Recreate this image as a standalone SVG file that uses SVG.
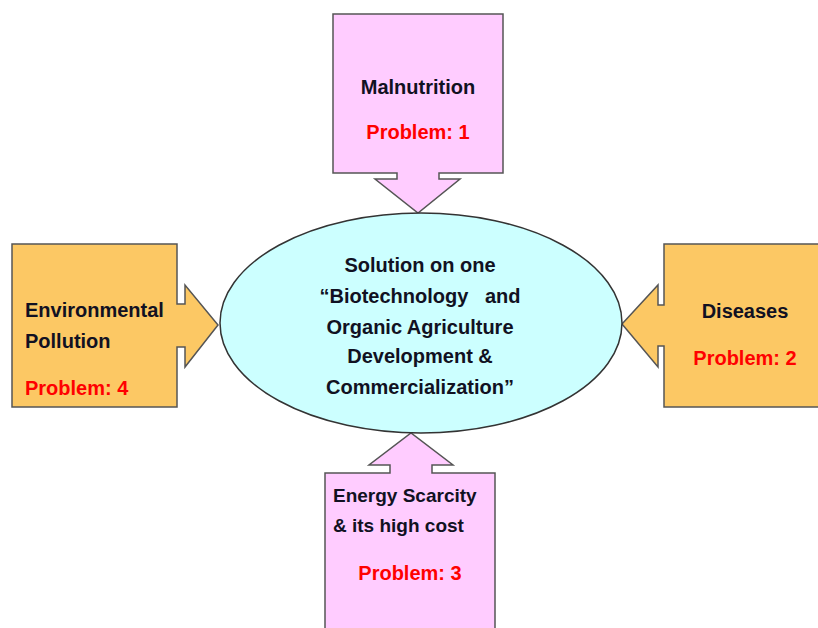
<svg xmlns="http://www.w3.org/2000/svg" width="818" height="628" viewBox="0 0 818 628">
<style>
.pink{fill:#FFCCFF;stroke:#555;stroke-width:1.5}
.orange{fill:#FCC864;stroke:#555;stroke-width:1.5}
.ell{fill:#CCFFFF;stroke:#333;stroke-width:1.5}
text{font-family:"Liberation Sans",Arial,sans-serif;font-weight:bold;font-size:20px}
.t{fill:#111122}
.r{fill:#FF0000}
.c{text-anchor:middle}
.s{font-size:19px}
</style>
<rect width="818" height="628" fill="#FFFFFF"/>
<g id="connectors"></g>
<g id="malnutrition">
<path class="pink" d="M333,14 H503 V173 H439 V179 H460 L418,213 L375,179 H397 V173 H333 Z"/>
<text class="t c" x="418" y="94">Malnutrition</text>
<text class="r c" x="418" y="139">Problem: 1</text>
</g>
<g id="environmental">
<path class="orange" d="M12,244 H177 V304 H185 V285 L218,325 L185,367 V347 H177 V407 H12 Z"/>
<text class="t" x="25" y="317">Environmental</text>
<text class="t" x="25" y="348">Pollution</text>
<text class="r" x="25" y="395">Problem: 4</text>
</g>
<g id="diseases">
<path class="orange" d="M825,244 H664 V305 H658 V285 L622,324 L658,367 V346 H664 V407 H825 Z"/>
<text class="t c" x="745" y="318">Diseases</text>
<text class="r c" x="745" y="365">Problem: 2</text>
</g>
<g id="energy">
<path class="pink" d="M325,640 V473 H390 V465 H369 L411,433 L453,465 H432 V473 H495 V640 Z"/>
<text class="t s" x="333" y="502">Energy Scarcity</text>
<text class="t s" x="333" y="532">&amp; its high cost</text>
<text class="r c" x="410" y="580">Problem: 3</text>
</g>
<g id="solution">
<ellipse class="ell" cx="421" cy="323" rx="201" ry="110"/>
<text class="t c" x="420" y="272">Solution on one</text>
<text class="t c" x="420" y="303" xml:space="preserve">“Biotechnology   and</text>
<text class="t c" x="420" y="334">Organic Agriculture</text>
<text class="t c" x="420" y="363">Development &amp;</text>
<text class="t c" x="420" y="394">Commercialization”</text>
</g>
</svg>
